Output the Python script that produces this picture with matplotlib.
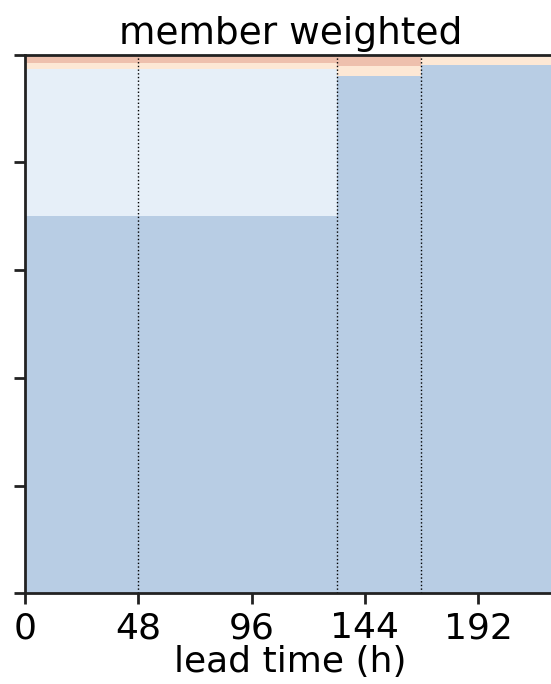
import numpy as np
import matplotlib
matplotlib.use("Agg")
import matplotlib.pyplot as plt

# lead-time segment edges (h) and stacked fractions per segment
edges = [0, 48, 132, 168, 225]
categories = ["dark blue", "light blue", "light orange", "orange"]
frac_dark_blue = [0.700, 0.700, 0.961, 0.981]
frac_light_blue = [0.274, 0.274, 0.000, 0.000]
frac_light_orange = [0.010, 0.010, 0.019, 0.019]
frac_orange = [0.016, 0.016, 0.020, 0.000]
colors = ["#b8cde4", "#e6eff8", "#fde8d5", "#eec0ad"]
xticks = [0, 48, 96, 144, 192]
boundaries = [48, 132, 168]

fig = plt.figure(figsize=(5.51, 6.84), dpi=100)
ax = fig.add_axes([0.0454, 0.1326, 0.9637, 0.7873])

lefts = np.array(edges[:-1])
widths = np.diff(edges)
bottom = np.zeros(len(lefts))
for vals, col in zip([frac_dark_blue, frac_light_blue, frac_light_orange, frac_orange], colors):
    vals = np.array(vals)
    ax.bar(lefts, vals, width=widths, bottom=bottom, align="edge",
           color=col, edgecolor="none", linewidth=0)
    bottom += vals

for b in boundaries:
    ax.axvline(b, color="black", linestyle=":", linewidth=1.0)

ax.set_xlim(0, 225)
ax.set_ylim(0, 1)
ax.set_xticks(xticks)
ax.set_xticklabels([str(t) for t in xticks])
ax.set_yticks(np.linspace(0, 1, 6))
ax.set_yticklabels([])
ax.tick_params(axis="both", length=8, width=2, labelsize=26, color="#222222", pad=5)
for s in ax.spines.values():
    s.set_linewidth(2)
    s.set_color("#222222")

ax.set_title("member weighted", fontsize=27, pad=8)
ax.set_xlabel("lead time (h)", fontsize=26, labelpad=0)

fig.savefig("out.png", dpi=100)
